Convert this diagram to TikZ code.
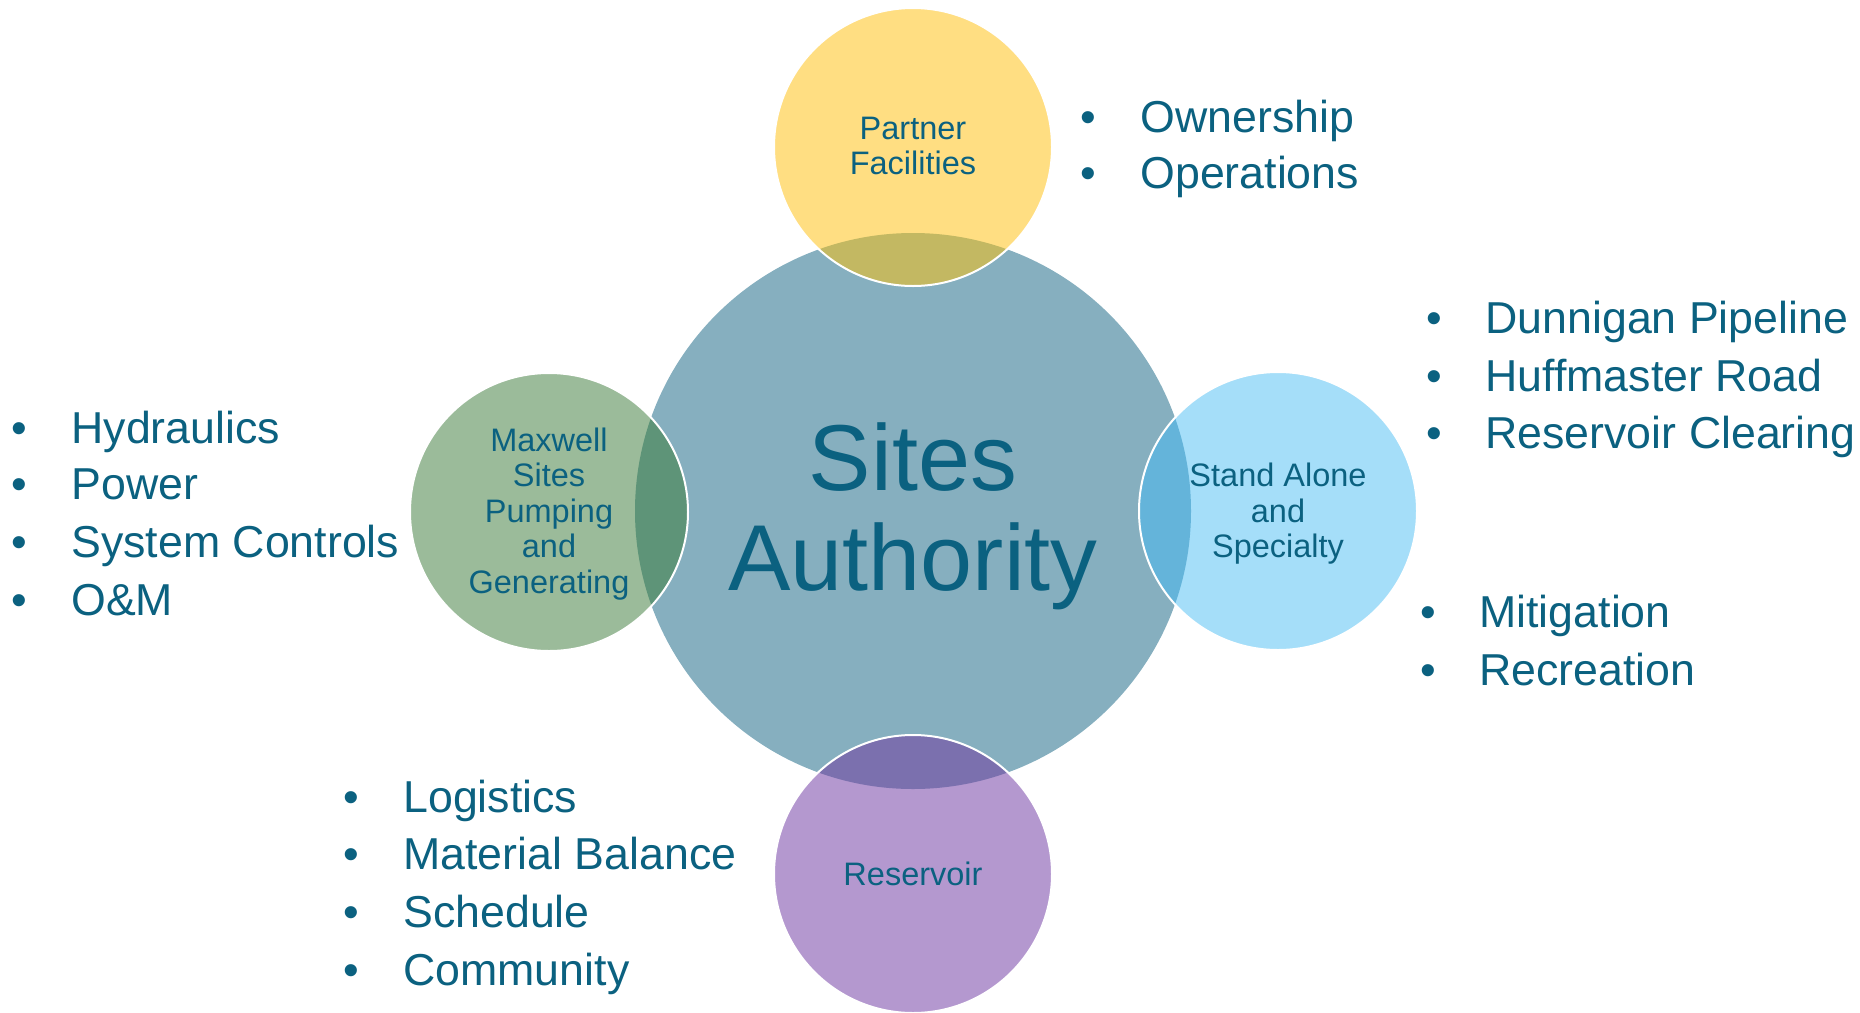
\documentclass[tikz,border=0pt]{standalone}
\usepackage{fontspec}
\setmainfont{Liberation Sans}
\definecolor{txt}{HTML}{0B6180}
\definecolor{bigc}{HTML}{86AFBF}
\definecolor{yel}{HTML}{FFDE82}
\definecolor{yelov}{HTML}{C3B862}
\definecolor{grn}{HTML}{9BBB9A}
\definecolor{grnov}{HTML}{5E9478}
\definecolor{lblu}{HTML}{A5DEF9}
\definecolor{lbluov}{HTML}{64B4DA}
\definecolor{pur}{HTML}{B498CF}
\definecolor{purov}{HTML}{7B70AE}
\begin{document}
\begin{tikzpicture}[x=0.5pt,y=-0.5pt,
  ctext/.style={align=center,inner sep=0pt,text=txt,font=\fontsize{16.25}{17.75}\selectfont},
  title/.style={anchor=base,inner sep=0pt,text=txt,font=\fontsize{46.8}{50}\selectfont},
  item/.style={anchor=base west,inner sep=0pt,text=txt,font=\fontsize{22.35}{26}\selectfont},
  dot/.style={anchor=base,inner sep=0pt,text=txt,font=\fontsize{22.35}{26}\selectfont},
  rim/.style={draw=white,line width=1pt}]
\useasboundingbox (0,0) rectangle (1860,1013);
\coordinate (big) at (913,511);
\coordinate (ctop) at (913,147);
\coordinate (cleft) at (549,512);
\coordinate (cright) at (1278,511);
\coordinate (cbot) at (913,874);
% big circle
\fill[bigc] (big) circle (278);
% small circles
\fill[yel] (ctop) circle (139);
\fill[grn] (cleft) circle (139);
\fill[lblu] (cright) circle (139);
\fill[pur] (cbot) circle (139);
\begin{scope}
  \clip (big) circle (278);
  \fill[yelov] (ctop) circle (139);
  \fill[grnov] (cleft) circle (139);
  \fill[lbluov] (cright) circle (139);
  \fill[purov] (cbot) circle (139);
\end{scope}
\draw[rim] (ctop) circle (139);
\draw[rim] (cleft) circle (139);
\draw[rim] (cright) circle (139);
\draw[rim] (cbot) circle (139);
% circle texts
\node[ctext] (tTop) at (913,146) {Partner\\Facilities};
\node[ctext] (tLeft) at (549,514) {Maxwell\\Sites\\Pumping\\and\\Generating};
\node[ctext] (tRight) at (1278,514) {Stand Alone\\and\\Specialty};
\node[ctext] (tBot) at (cbot) {Reservoir};
% title
\node[title] (t1) at (913,490) {Sites};
\node[title] (t2) at (913,590) {Authority};
% top list
\node[dot] (b11) at (1088,132) {•};
\node[item] (i11) at (1140,132) {Ownership};
\node[dot] (b12) at (1088,188) {•};
\node[item] (i12) at (1140,188) {Operations};
% right upper list
\node[dot] (b21) at (1434,333) {•};
\node[item] (i21) at (1485,333) {Dunnigan Pipeline};
\node[dot] (b22) at (1434,391) {•};
\node[item] (i22) at (1485,391) {Huffmaster Road};
\node[dot] (b23) at (1434,448) {•};
\node[item] (i23) at (1485,448) {Reservoir Clearing};
% right lower list
\node[dot] (b31) at (1428,627) {•};
\node[item] (i31) at (1479,627) {Mitigation};
\node[dot] (b32) at (1428,685) {•};
\node[item] (i32) at (1479,685) {Recreation};
% left list
\node[dot] (b41) at (19,443) {•};
\node[item] (i41) at (71,443) {Hydraulics};
\node[dot] (b42) at (19,499) {•};
\node[item] (i42) at (71,499) {Power};
\node[dot] (b43) at (19,557) {•};
\node[item] (i43) at (71,557) {System Controls};
\node[dot] (b44) at (19,615) {•};
\node[item] (i44) at (71,615) {O\&M};
% bottom list
\node[dot] (b51) at (351,812) {•};
\node[item] (i51) at (403,812) {Logistics};
\node[dot] (b52) at (351,869) {•};
\node[item] (i52) at (403,869) {Material Balance};
\node[dot] (b53) at (351,927) {•};
\node[item] (i53) at (403,927) {Schedule};
\node[dot] (b54) at (351,985) {•};
\node[item] (i54) at (403,985) {Community};
\end{tikzpicture}
\end{document}
